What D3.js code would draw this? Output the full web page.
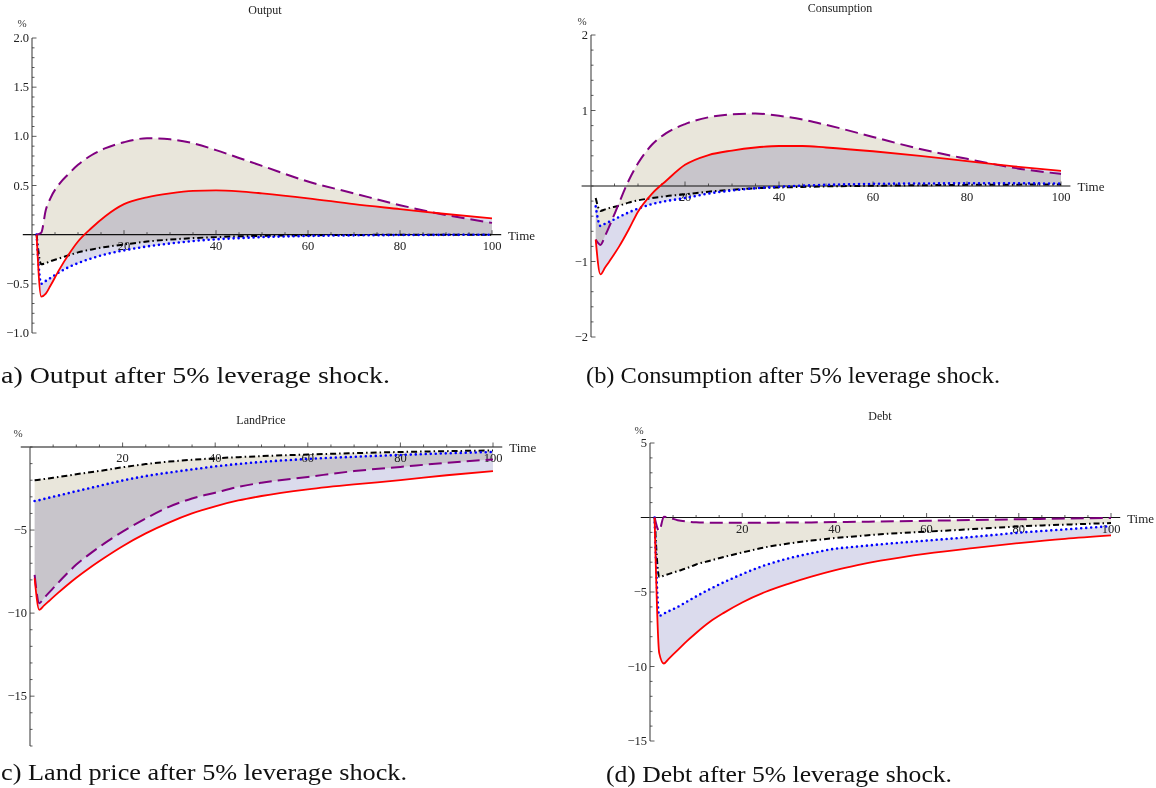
<!DOCTYPE html>
<html>
<head>
<meta charset="utf-8">
<script src="https://cdn.jsdelivr.net/npm/d3@7"></script>
<style>
  body { margin: 0; background: #fff; }
  svg { display: block; font-family: 'Liberation Serif', 'Times New Roman', serif; }
</style>
</head>
<body>
<svg id="chart" width="1156" height="788"></svg>
<script>
const time = [1, 2, 3, 4, 6, 8, 10, 13, 16, 20, 25, 30, 35, 40, 45, 50, 60, 70, 80, 90, 100]

const outputRed = [0, -0.63, -0.6, -0.52, -0.35, -0.2, -0.07, 0.07, 0.19, 0.31, 0.38, 0.42, 0.445, 0.45, 0.44, 0.42, 0.37, 0.31, 0.26, 0.21, 0.165]
const outputPurple = [0, 0.02, 0.25, 0.37, 0.52, 0.62, 0.71, 0.81, 0.88, 0.94, 0.98, 0.97, 0.93, 0.86, 0.78, 0.7, 0.54, 0.42, 0.3, 0.2, 0.12]
const outputBlack = [0, -0.3, -0.29, -0.27, -0.24, -0.21, -0.18, -0.15, -0.125, -0.1, -0.07, -0.05, -0.035, -0.025, -0.017, -0.012, -0.006, -0.003, -0.001, 0, 0]
const outputBlue = [0, -0.5, -0.47, -0.44, -0.38, -0.33, -0.29, -0.24, -0.2, -0.16, -0.12, -0.09, -0.065, -0.047, -0.035, -0.025, -0.013, -0.007, -0.004, -0.002, -0.001]

const consRed = [-0.71, -1.17, -1.08, -0.99, -0.8, -0.58, -0.34, -0.1, 0.07, 0.28, 0.41, 0.47, 0.51, 0.53, 0.53, 0.51, 0.46, 0.4, 0.33, 0.26, 0.2]
const consPurple = [-0.71, -0.78, -0.66, -0.52, -0.22, 0.07, 0.3, 0.55, 0.7, 0.82, 0.91, 0.95, 0.96, 0.93, 0.88, 0.81, 0.65, 0.49, 0.36, 0.24, 0.16]
const consBlack = [-0.16, -0.33, -0.31, -0.29, -0.26, -0.22, -0.19, -0.16, -0.135, -0.11, -0.075, -0.05, -0.03, -0.02, -0.012, -0.005, 0.003, 0.01, 0.015, 0.018, 0.02]
const consBlue = [-0.27, -0.53, -0.5, -0.47, -0.41, -0.35, -0.3, -0.24, -0.2, -0.16, -0.1, -0.06, -0.03, -0.01, 0.005, 0.015, 0.028, 0.033, 0.035, 0.035, 0.033]

const landRed = [-7.9, -9.8, -9.55, -9.3, -8.8, -8.32, -7.87, -7.25, -6.68, -5.97, -5.2, -4.55, -4.0, -3.57, -3.22, -2.95, -2.55, -2.25, -2.0, -1.7, -1.45]
const landPurple = [-7.7, -9.4, -9.1, -8.8, -8.2, -7.62, -7.08, -6.42, -5.82, -5.1, -4.3, -3.6, -3.1, -2.75, -2.4, -2.15, -1.8, -1.45, -1.2, -0.95, -0.75]
const landBlack = [-2.0, -1.97, -1.93, -1.89, -1.81, -1.73, -1.64, -1.52, -1.4, -1.22, -1.03, -0.88, -0.77, -0.68, -0.61, -0.55, -0.45, -0.37, -0.3, -0.25, -0.21]
const landBlue = [-3.25, -3.2, -3.13, -3.06, -2.93, -2.8, -2.66, -2.47, -2.27, -2.02, -1.75, -1.54, -1.35, -1.17, -1.02, -0.9, -0.72, -0.59, -0.48, -0.38, -0.3]

const debtRed = [0, -9.1, -9.8, -9.5, -8.9, -8.3, -7.75, -7.0, -6.4, -5.7, -5.0, -4.45, -3.97, -3.55, -3.2, -2.9, -2.42, -2.05, -1.72, -1.43, -1.2]
const debtPurple = [0, -0.9, 0.05, 0.0, -0.18, -0.27, -0.32, -0.35, -0.36, -0.36, -0.35, -0.34, -0.33, -0.31, -0.29, -0.27, -0.22, -0.17, -0.12, -0.07, -0.03]
const debtBlack = [0, -4.0, -3.9, -3.8, -3.6, -3.4, -3.15, -2.9, -2.65, -2.35, -2.0, -1.75, -1.55, -1.38, -1.25, -1.12, -0.95, -0.78, -0.6, -0.48, -0.37]
const debtBlue = [0, -6.6, -6.45, -6.3, -6.0, -5.65, -5.3, -4.8, -4.35, -3.8, -3.2, -2.75, -2.4, -2.1, -1.95, -1.8, -1.55, -1.3, -1.02, -0.8, -0.58]

const xTicks = [20, 40, 60, 80, 100]
const outputTicks = [2.0, 1.5, 1.0, 0.5, -0.5, -1.0]
const consTicks = [2, 1, -1, -2]
const landTicks = [-5, -10, -15]
const debtTicks = [5, -5, -10, -15]

const titles = ['Output', 'Consumption', 'LandPrice', 'Debt']
const captions = [
  'a) Output after 5% leverage shock.',
  '(b) Consumption after 5% leverage shock.',
  'c) Land price after 5% leverage shock.',
  '(d) Debt after 5% leverage shock.'
]

const panels = [
  { title: titles[0], caption: captions[0], red: outputRed, purple: outputPurple, black: outputBlack, blue: outputBlue,
    yDomain: [-1, 2], ticks: outputTicks, minor: 0.1, fmt: d3.format('.1f'),
    xr: [32, 492], yr: [333, 38], titleAt: [265, 14], pctAt: [22, 27], capAt: [1, 383], capLen: 389 },
  { title: titles[1], caption: captions[1], red: consRed, purple: consPurple, black: consBlack, blue: consBlue,
    yDomain: [-2, 2], ticks: consTicks, minor: 0.2, fmt: d3.format('d'),
    xr: [591, 1061], yr: [337, 35], titleAt: [840, 12], pctAt: [582, 25], capAt: [586, 383], capLen: 414 },
  { title: titles[2], caption: captions[2], red: landRed, purple: landPurple, black: landBlack, blue: landBlue,
    yDomain: [-18, 0], ticks: landTicks, minor: 1, fmt: d3.format('d'),
    xr: [30, 493], yr: [746, 447], titleAt: [261, 424], pctAt: [18, 437], capAt: [1, 780], capLen: 406 },
  { title: titles[3], caption: captions[3], red: debtRed, purple: debtPurple, black: debtBlack, blue: debtBlue,
    yDomain: [-15, 5], ticks: debtTicks, minor: 1, fmt: d3.format('d'),
    xr: [650, 1111], yr: [741, 443], titleAt: [880, 420], pctAt: [639, 434], capAt: [606, 782], capLen: 346 }
]

const svg = d3.select('#chart')
panels.forEach(drawPanel)

function drawPanel(p) {
  const x = d3.scaleLinear().domain([0, 100]).range(p.xr)
  const y = d3.scaleLinear().domain(p.yDomain).range(p.yr)
  const g = svg.append('g')
  const idx = d3.range(time.length)

  // fillings: purple <-> black (beige), red <-> blue (lavender)
  const fills = g.append('g').style('isolation', 'isolate')
  const band = (a, b) => d3.area()
    .curve(d3.curveMonotoneX)
    .x(i => x(time[i]))
    .y0(i => y(a[i]))
    .y1(i => y(b[i]))
  fills.append('path').datum(idx)
    .attr('d', band(p.purple, p.black))
    .attr('fill', '#e9e6db')
    .style('mix-blend-mode', 'multiply')
  fills.append('path').datum(idx)
    .attr('d', band(p.red, p.blue))
    .attr('fill', '#dbdbed')
    .style('mix-blend-mode', 'multiply')

  // axes
  const y0 = y(0), xa = x(0)
  g.append('line')
    .attr('x1', x(-2)).attr('x2', x(102)).attr('y1', y0).attr('y2', y0)
    .attr('stroke', '#111').attr('stroke-width', 1.2)
  g.append('line')
    .attr('x1', xa).attr('x2', xa).attr('y1', y(p.yDomain[0])).attr('y2', y(p.yDomain[1]))
    .attr('stroke', '#555').attr('stroke-width', 1.2)

  const minorX = d3.range(5, 101, 5)
  g.append('g').selectAll('line').data(minorX).join('line')
    .attr('x1', d => x(d)).attr('x2', d => x(d))
    .attr('y1', y0).attr('y2', d => y0 - (d % 20 === 0 ? 4.5 : 2.5))
    .attr('stroke', '#333').attr('stroke-width', 0.8)
  g.append('g').selectAll('text').data(xTicks).join('text')
    .attr('x', d => x(d)).attr('y', y0 + 15)
    .attr('text-anchor', 'middle')
    .attr('font-size', 12.5).attr('fill', '#222')
    .text(d => d)

  const [lo, hi] = p.yDomain
  const minorY = d3.range(Math.round((hi - lo) / p.minor) + 1).map(k => lo + k * p.minor)
  g.append('g').selectAll('line').data(minorY).join('line')
    .attr('x1', xa).attr('x2', d => xa + (p.ticks.some(t => Math.abs(t - d) < 1e-6) ? 4.5 : 2.5))
    .attr('y1', d => y(d)).attr('y2', d => y(d))
    .attr('stroke', '#333').attr('stroke-width', 0.8)
  g.append('g').selectAll('text').data(p.ticks).join('text')
    .attr('x', xa - 3).attr('y', d => y(d) + 4)
    .attr('text-anchor', 'end')
    .attr('font-size', 12.5).attr('fill', '#222')
    .text(d => p.fmt(d))

  g.append('text').attr('x', p.pctAt[0]).attr('y', p.pctAt[1])
    .attr('text-anchor', 'middle').attr('font-size', 11).attr('fill', '#333').text('%')
  g.append('text').attr('x', x(103.5)).attr('y', y0 + 5)
    .attr('font-size', 13).attr('fill', '#222').text('Time')
  g.append('text').attr('x', p.titleAt[0]).attr('y', p.titleAt[1])
    .attr('text-anchor', 'middle').attr('font-size', 12).attr('fill', '#222').text(p.title)

  // curves
  const line = s => d3.line().curve(d3.curveMonotoneX).x(i => x(time[i])).y(i => y(s[i]))
  g.append('path').datum(idx).attr('d', line(p.black))
    .attr('fill', 'none').attr('stroke', '#000').attr('stroke-width', 2)
    .attr('stroke-dasharray', '6,3,1.5,3')
  g.append('path').datum(idx).attr('d', line(p.blue))
    .attr('fill', 'none').attr('stroke', '#0000ff').attr('stroke-width', 2.6)
    .attr('stroke-linecap', 'round').attr('stroke-dasharray', '0,5')
  g.append('path').datum(idx).attr('d', line(p.purple))
    .attr('fill', 'none').attr('stroke', '#800080').attr('stroke-width', 2)
    .attr('stroke-dasharray', '13,6')
  g.append('path').datum(idx).attr('d', line(p.red))
    .attr('fill', 'none').attr('stroke', '#ff0000').attr('stroke-width', 1.8)

  // caption below the panel
  svg.append('text')
    .attr('x', p.capAt[0]).attr('y', p.capAt[1])
    .attr('font-size', 24).attr('fill', '#111')
    .attr('textLength', p.capLen).attr('lengthAdjust', 'spacingAndGlyphs')
    .text(p.caption)
}
</script>
</body>
</html>
